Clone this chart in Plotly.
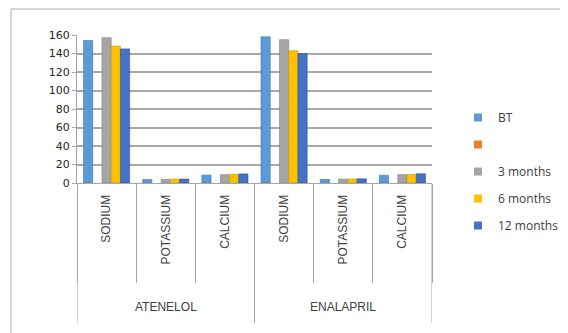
import plotly.graph_objects as go

drugs = ["ATENELOL", "ENALAPRIL"]
minerals = ["SODIUM", "POTASSIUM", "CALCIUM"]
categories = [f"{d}|{m}" for d in drugs for m in minerals]
category_labels = [m for d in drugs for m in minerals]

series_names = ["BT", " ", "3 months", "6 months", "12 months"]
bt = [154, 3.8, 8.5, 158, 3.9, 8.4]
blank = [0, 0, 0, 0, 0, 0]
m3 = [157, 4.0, 9.0, 155, 4.1, 9.0]
m6 = [148, 4.2, 9.4, 143, 4.3, 9.2]
m12 = [145, 4.3, 9.8, 140, 4.5, 10.0]
series_values = [bt, blank, m3, m6, m12]
colors = ["#5B9BD5", "#ED7D31", "#A5A5A5", "#FFC000", "#4472C4"]
edge = ["#3F7AB0", "#C0601C", "#7F7F7F", "#C99700", "#2F5597"]

y_ticks = [0, 20, 40, 60, 80, 100, 120, 140, 160]

fig = go.Figure()
for i, (nm, vals) in enumerate(zip(series_names, series_values)):
    fig.add_trace(go.Bar(
        x=categories, y=vals, name=nm, showlegend=False,
        marker=dict(color=colors[i], line=dict(color=edge[i], width=0.6 if i != 1 else 0)),
    ))
# legend entries with small square keys
for i, nm in enumerate(series_names):
    fig.add_trace(go.Scatter(
        x=[None], y=[None], mode="markers", name=nm,
        marker=dict(symbol="square", size=8, color=colors[i]),
        legendgroup=f"g{i}", showlegend=True,
    ))

# the page body has an 8px margin; work in reference pixel coordinates minus that
OFF = 8
W, H = 568 - OFF, 333 - OFF
def px(v):
    return v - OFF

L = px(77)
T = px(35)
plot_right = px(432)
plot_bottom = px(183)
R = W - plot_right
B = H - plot_bottom
pw = W - L - R
ph = H - T - B

def xp(ref_x):
    return (px(ref_x) - L) / pw
def yp(ref_y):
    return (plot_bottom - px(ref_y)) / ph

fig.update_layout(
    width=W, height=H,
    margin=dict(l=L, r=R, t=T, b=B, pad=0, autoexpand=False),
    paper_bgcolor="white", plot_bgcolor="white",
    barmode="group", bargap=0.22, bargroupgap=0,
    font=dict(family="Liberation Sans", size=11, color="#404040"),
    showlegend=True,
    legend=dict(
        x=xp(458), y=yp(103), xanchor="left", yanchor="top",
        font=dict(family="Open Sans", size=12, color="#404040"),
        tracegroupgap=8, itemwidth=30,
        bgcolor="rgba(0,0,0,0)",
    ),
    xaxis=dict(
        type="category", automargin=False,
        tickmode="array", tickvals=categories, ticktext=category_labels, tickangle=-90,
        showline=True, linecolor="#A6A6A6", linewidth=1,
        ticks="outside", tickson="boundaries", ticklen=282 - 183, tickcolor="#A6A6A6", tickwidth=1,
        ticklabelstandoff=6,
        tickfont=dict(family="Liberation Sans", size=12, color="#404040"),
        showgrid=False, range=[-0.5, 5.5],
    ),
    yaxis=dict(
        automargin=False,
        range=[0, 160], tickvals=y_ticks, ticktext=[str(v) for v in y_ticks],
        showgrid=True, gridcolor="#A8A8A8", gridwidth=1.5,
        showline=True, linecolor="#A6A6A6", linewidth=1,
        ticks="outside", ticklen=4, tickcolor="#A6A6A6",
        tickfont=dict(family="DejaVu Sans", size=11, color="#262626"),
        zeroline=False,
    ),
)

# group dividers and group labels below the mineral labels
n = len(minerals)
for gi, d in enumerate(drugs):
    for xb in ([gi * n - 0.5] if gi == 0 else []) + [gi * n + n - 0.5]:
        fig.add_shape(type="line", xref="x", yref="paper", x0=xb, x1=xb,
                      y0=0, y1=yp(323),
                      line=dict(color="#A6A6A6", width=1))
    fig.add_annotation(x=gi * n + (n - 1) / 2, xref="x", y=yp(307), yref="paper",
                       text=d, showarrow=False, yanchor="middle",
                       font=dict(family="Liberation Sans", size=12, color="#404040"))

# outer chart border (top and left edges visible in the frame)
fig.add_shape(type="line", xref="paper", yref="paper",
              x0=xp(11), x1=xp(620), y0=yp(9), y1=yp(9),
              line=dict(color="#C8C8C8", width=1.5), layer="below")
fig.add_shape(type="line", xref="paper", yref="paper",
              x0=xp(11), x1=xp(11), y0=yp(9), y1=yp(380),
              line=dict(color="#C8C8C8", width=1.5), layer="below")

fig.write_html("out.html")
